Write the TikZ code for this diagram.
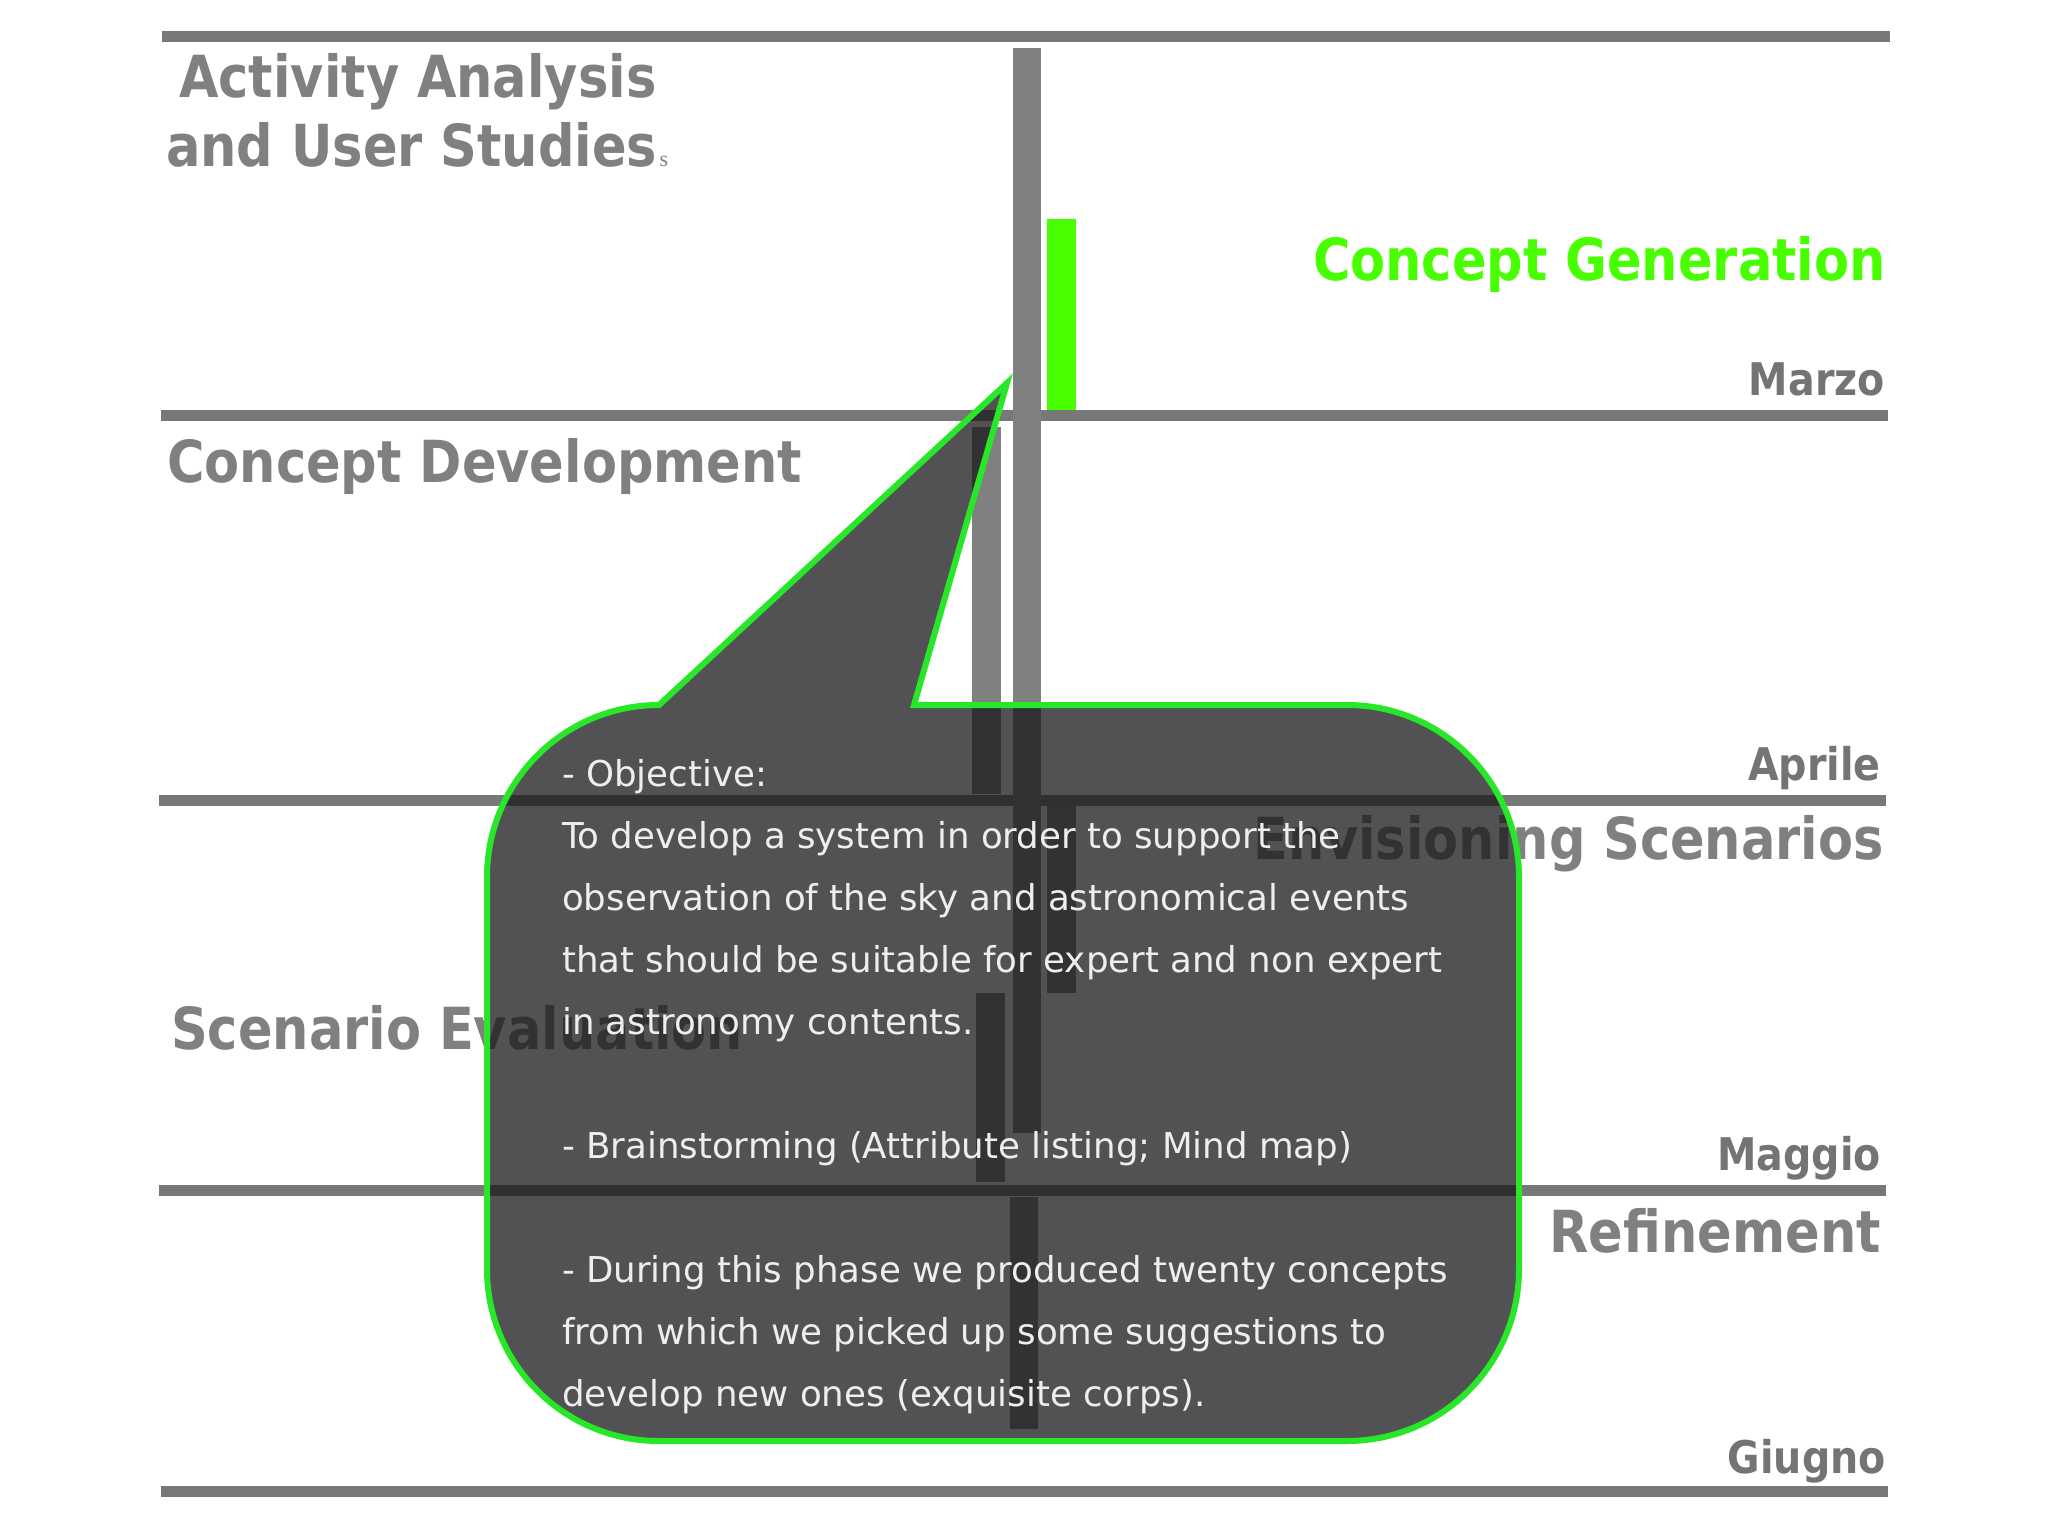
\documentclass[tikz,border=0pt]{standalone}
\usepackage{fontspec}
\setmainfont{DejaVu Sans}
\newfontfamily\titlefont[FakeStretch=0.88]{DejaVu Sans}
\newfontfamily\bodyfont{DejaVu Sans}
\newfontfamily\tinyserif{Liberation Serif}
\definecolor{linegray}{RGB}{120,120,120}
\definecolor{bargray}{RGB}{128,128,128}
\definecolor{titlegray}{RGB}{128,128,128}
\definecolor{monthgray}{RGB}{116,116,118}
\definecolor{cgreen}{RGB}{72,255,0}
\definecolor{outlinegreen}{RGB}{40,230,40}
\definecolor{calloutfill}{RGB}{25,25,27}
\definecolor{bodytext}{RGB}{238,238,238}
\tikzset{
  hline/.style={draw=linegray, line width=11pt},
  barbox/.style={fill=bargray, draw=none},
  greenbar/.style={fill=cgreen, draw=none},
  phasetitle/.style={font=\titlefont\bfseries\fontsize{58}{60}\selectfont, text=titlegray, inner sep=0pt},
  month/.style={font=\titlefont\bfseries\fontsize{45}{48}\selectfont, text=monthgray, inner sep=0pt, anchor=base east},
  bodyline/.style={font=\bodyfont\fontsize{35.6}{40}\selectfont, text=bodytext, anchor=base west, inner sep=0pt},
  callout/.style={fill=calloutfill, fill opacity=0.75, draw=outlinegreen, line width=6pt, line join=miter}
}
\begin{document}
\begin{tikzpicture}[x=1pt,y=-1pt]
\fill[white] (0,0) rectangle (2048,1536);
\useasboundingbox (0,0) rectangle (2048,1536);
% horizontal month lines
\draw[hline] (162,37) -- (1890,37);
\draw[hline] (161,415) -- (1888,415);
\draw[hline] (159,800) -- (1886,800);
\draw[hline] (159,1190) -- (1886,1190);
\draw[hline] (161,1491) -- (1888,1491);
% phase bars
\fill[barbox] (1013,48) rectangle (1041,1133);
\fill[greenbar] (1047,219) rectangle (1076,410);
\fill[barbox] (972,427) rectangle (1001,794);
\fill[barbox] (1047,806) rectangle (1076,993);
\fill[barbox] (976,993) rectangle (1005,1182);
\fill[barbox] (1010,1197) rectangle (1038,1429);
% titles
\node[phasetitle, anchor=base west] (act1) at (179,98) {Activity Analysis};
\node[phasetitle, anchor=base west] (act2) at (166,167) {and User Studies};
\node[font=\tinyserif\fontsize{22}{24}\selectfont, text=titlegray, inner sep=0pt, anchor=base west] (tiny) at ([xshift=2pt]act2.base east) {s};
\node[phasetitle, anchor=base east, text=cgreen] (cgen) at (1886,280) {Concept Generation};
\node[month] (marzo) at (1885,395) {Marzo};
\node[phasetitle, anchor=base west] (cdev) at (167,482) {Concept Development};
\node[month] (aprile) at (1881,780) {Aprile};
\node[phasetitle, anchor=base east] (envis) at (1884,859) {Envisioning Scenarios};
\node[phasetitle, anchor=base west] (seval) at (171,1049) {Scenario Evaluation};
\node[month] (maggio) at (1881,1170) {Maggio};
\node[phasetitle, anchor=base east] (refin) at (1881,1252) {Refinement};
\node[month] (giugno) at (1886,1473) {Giugno};
% callout
\draw[callout] (659,705) -- (1007,383) -- (914,705) -- (1347,705)
  arc[start angle=-90, end angle=0, radius=172] -- (1519,1269)
  arc[start angle=0, end angle=90, radius=172] -- (659,1441)
  arc[start angle=90, end angle=180, radius=172] -- (487,877)
  arc[start angle=180, end angle=270, radius=172] -- cycle;
% callout text
\node[bodyline] (t1) at (562,786) {- Objective:};
\node[bodyline] (t2) at (562,848) {To develop a system in order to support the};
\node[bodyline] (t3) at (562,910) {observation of the sky and astronomical events};
\node[bodyline] (t4) at (562,972) {that should be suitable for expert and non expert};
\node[bodyline] (t5) at (562,1034) {in astronomy contents.};
\node[bodyline] (t7) at (562,1158) {- Brainstorming (Attribute listing; Mind map)};
\node[bodyline] (t9) at (562,1282) {- During this phase we produced twenty concepts};
\node[bodyline] (t10) at (562,1344) {from which we picked up some suggestions to};
\node[bodyline] (t11) at (562,1406) {develop new ones (exquisite corps).};
\end{tikzpicture}
\end{document}
